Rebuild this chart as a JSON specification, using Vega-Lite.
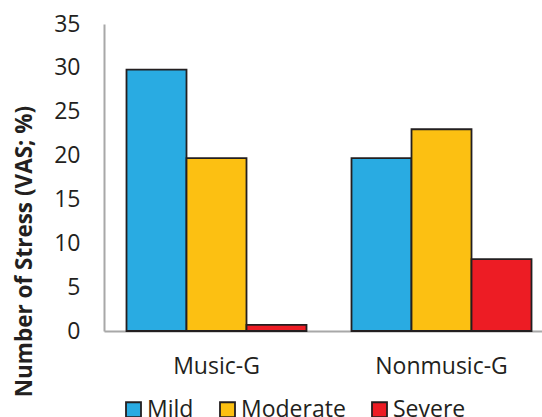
{
  "$schema": "https://vega.github.io/schema/vega-lite/v6.json",
  "width": 438,
  "height": 307,
  "autosize": "none",
  "padding": {"left": 104, "top": 24, "right": 0, "bottom": 86},
  "background": "white",
  "data": {
    "values": [
      {"group": "Music-G", "severity": "Mild", "value": 29.8},
      {"group": "Music-G", "severity": "Moderate", "value": 19.7},
      {"group": "Music-G", "severity": "Severe", "value": 0.7},
      {"group": "Nonmusic-G", "severity": "Mild", "value": 19.7},
      {"group": "Nonmusic-G", "severity": "Moderate", "value": 23.0},
      {"group": "Nonmusic-G", "severity": "Severe", "value": 8.2}
    ]
  },
  "mark": {"type": "bar", "stroke": "#231F20", "strokeWidth": 1.8},
  "encoding": {
    "x": {
      "field": "group",
      "type": "nominal",
      "sort": ["Music-G", "Nonmusic-G"],
      "scale": {"paddingInner": 0.2, "paddingOuter": 0.0733, "align": 0.682},
      "axis": {
        "title": null,
        "labelAngle": 0,
        "ticks": false,
        "labelPadding": 24,
        "labelFontSize": 23,
        "labelFont": "Open Sans",
        "labelColor": "#231F20",
        "domainColor": "#A8A8A8",
        "domainWidth": 2
      }
    },
    "xOffset": {
      "field": "severity",
      "type": "nominal",
      "sort": ["Mild", "Moderate", "Severe"],
      "scale": {"paddingInner": 0, "paddingOuter": 0}
    },
    "y": {
      "field": "value",
      "type": "quantitative",
      "scale": {"domain": [0, 35], "nice": false},
      "axis": {
        "values": [0, 5, 10, 15, 20, 25, 30, 35],
        "grid": false,
        "ticks": false,
        "labelPadding": 24,
        "labelFontSize": 23,
        "labelFont": "Open Sans",
        "labelColor": "#231F20",
        "domainColor": "#A8A8A8",
        "domainWidth": 2,
        "title": "Number of Stress (VAS; %)",
        "titleFont": "Open Sans",
        "titleFontSize": 22.5,
        "titleFontWeight": "bold",
        "titleColor": "#231F20",
        "titleX": -80,
        "titleY": 227,
        "titleAlign": "center",
        "titleBaseline": "middle",
        "titleAngle": -90
      }
    },
    "color": {
      "field": "severity",
      "type": "nominal",
      "sort": ["Mild", "Moderate", "Severe"],
      "scale": {"domain": ["Mild", "Moderate", "Severe"], "range": ["#29ABE2", "#FCC012", "#ED1C24"]},
      "legend": {
        "title": null,
        "orient": "none",
        "direction": "horizontal",
        "legendX": 18,
        "legendY": 374,
        "padding": 0,
        "symbolType": "square",
        "symbolSize": 225,
        "symbolStrokeColor": "#231F20",
        "symbolStrokeWidth": 1.8,
        "symbolOpacity": 1,
        "labelFont": "Open Sans",
        "labelFontSize": 23,
        "labelColor": "#231F20",
        "labelOffset": 2,
        "columnPadding": 22
      }
    }
  },
  "config": {"view": {"stroke": null}}
}
